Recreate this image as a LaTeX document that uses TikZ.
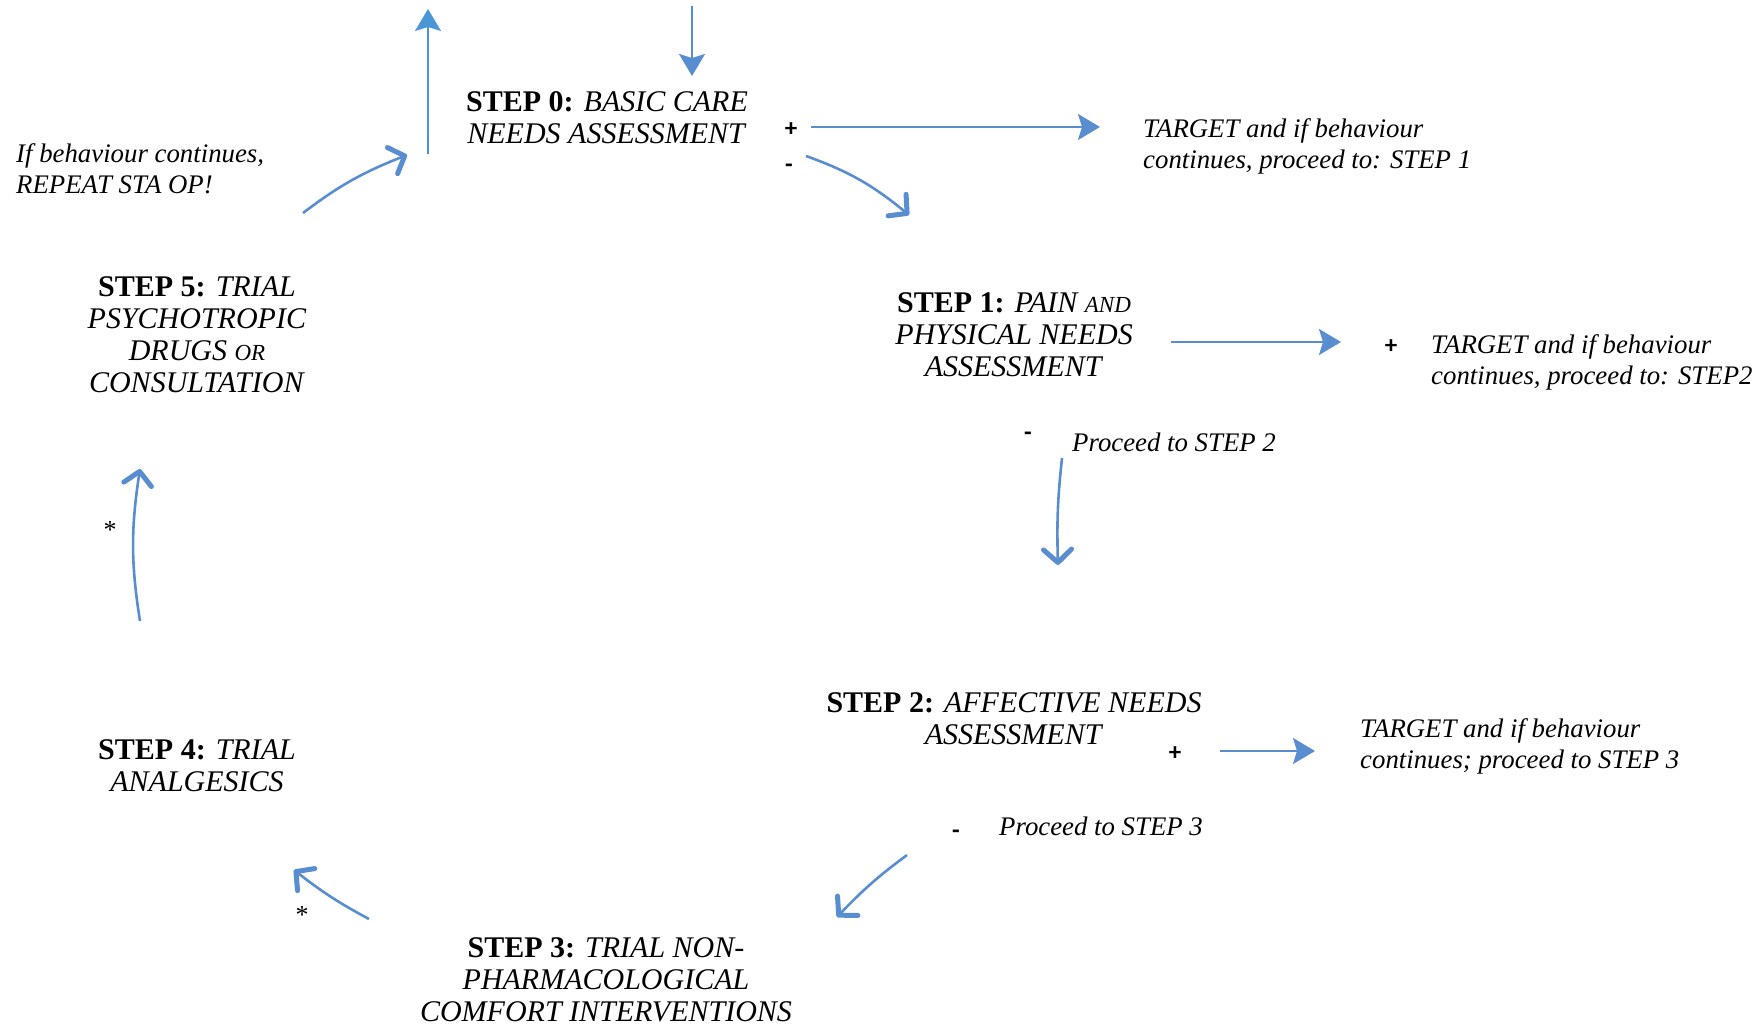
\documentclass[tikz,border=0pt]{standalone}
\usepackage{fontspec}
\setmainfont{Liberation Serif}
\newfontfamily\signfont{Carlito}
\usetikzlibrary{arrows.meta,bending}
\definecolor{arrowblue}{RGB}{88,142,208}
\definecolor{upblue}{RGB}{74,150,214}
\newcommand\minicaps[1]{{\fontsize{23}{23}\selectfont #1}}
\begin{document}
\begin{tikzpicture}[x=1pt,y=-1pt,
  stepnode/.style={align=center,font=\fontsize{30}{32}\selectfont,inner sep=0pt},
  note/.style={align=left,anchor=west,font=\fontsize{26.8}{31}\selectfont\itshape,inner sep=0pt},
  sign/.style={font=\signfont\bfseries\fontsize{25}{25}\selectfont,inner sep=0pt},
  star/.style={font=\fontsize{26}{26}\selectfont,inner sep=0pt},
  flat/.style={draw=arrowblue,line width=2pt,-{Stealth[length=22pt,width=26pt,inset=4pt]}},
  sketch/.style={draw=arrowblue,line width=2.6pt,-{Straight Barb[length=13pt,width=28pt,line width=5pt,round]}},
]
\useasboundingbox (0,0) rectangle (1760,1027);

% step nodes
\node[stepnode] (s0) at (607,118) {\textbf{STEP 0:} \textit{BASIC CARE}\\\textit{NEEDS ASSESSMENT}};
\node[stepnode] (s1) at (1014,335) {\textbf{STEP 1:} \textit{PAIN \minicaps{AND}}\\\textit{PHYSICAL NEEDS}\\\textit{ASSESSMENT}};
\node[stepnode] (s2) at (1014,719) {\textbf{STEP 2:} \textit{AFFECTIVE NEEDS}\\\textit{ASSESSMENT}};
\node[stepnode] (s3) at (606,980) {\textbf{STEP 3:} \textit{TRIAL NON-}\\\textit{PHARMACOLOGICAL}\\\textit{COMFORT INTERVENTIONS}};
\node[stepnode] (s4) at (197,766) {\textbf{STEP 4:} \textit{TRIAL}\\\textit{ANALGESICS}};
\node[stepnode] (s5) at (197,335) {\textbf{STEP 5:} \textit{TRIAL}\\\textit{PSYCHOTROPIC}\\\textit{DRUGS \minicaps{OR}}\\\textit{CONSULTATION}};

% notes
\node[note] (n0) at (1143,146) {TARGET and if behaviour\\continues, proceed to: STEP 1};
\node[note] (n1) at (1431,362) {TARGET and if behaviour\\continues, proceed to: STEP2};
\node[note] (n2) at (1360,746) {TARGET and if behaviour\\continues; proceed to STEP 3};
\node[note] (p1) at (1072,442) {Proceed to STEP 2};
\node[note] (p2) at (999,826) {Proceed to STEP 3};
\node[note] (rep) at (16,169) {If behaviour continues,\\REPEAT STA OP!};

% signs
\node[sign] (plus0) at (791,130) {+};
\node[sign] (minus0) at (789,168) {-};
\node[sign] (plus1) at (1391,347) {+};
\node[sign] (minus1) at (1028,436) {-};
\node[sign] (plus2) at (1175,754) {+};
\node[sign] (minus2) at (956,834) {-};
\node[star] (st1) at (110,530) {*};
\node[star] (st2) at (302,915) {*};

% arrow end points
\coordinate (inA) at (692,6);   \coordinate (inB) at (692,76);
\coordinate (outA) at (428,154); \coordinate (outB) at (428,9);
\coordinate (a0A) at (811,127); \coordinate (a0B) at (1100,127);
\coordinate (b0A) at (806,156); \coordinate (b0B) at (909,215);
\coordinate (a1A) at (1171,342); \coordinate (a1B) at (1341,342);
\coordinate (b1A) at (1062,458); \coordinate (b1B) at (1058,565);
\coordinate (a2A) at (1220,751); \coordinate (a2B) at (1315,751);
\coordinate (b2A) at (907,855); \coordinate (b2B) at (837,917);
\coordinate (c3A) at (369,919); \coordinate (c3B) at (294,870);
\coordinate (c4A) at (140,621); \coordinate (c4B) at (140,469);
\coordinate (c5A) at (303,213); \coordinate (c5B) at (407,155);

% straight arrows
\draw[flat] (inA) -- (inB);
\draw[flat,draw=upblue,line width=1.5pt] (outA) -- (outB);
\draw[flat] (a0A) -- (a0B);
\draw[flat] (a1A) -- (a1B);
\draw[flat] (a2A) -- (a2B);

% sketched arrows
\draw[sketch] (b0A) to[bend left=10] (b0B);
\draw[sketch] (b1A) to[bend right=4] (b1B);
\draw[sketch] (b2A) to[bend right=5] (b2B);
\draw[sketch] (c3A) to[bend left=5] (c3B);
\draw[sketch] (c4A) to[bend left=9] (c4B);
\draw[sketch] (c5A) to[bend left=8] (c5B);
\end{tikzpicture}
\end{document}
